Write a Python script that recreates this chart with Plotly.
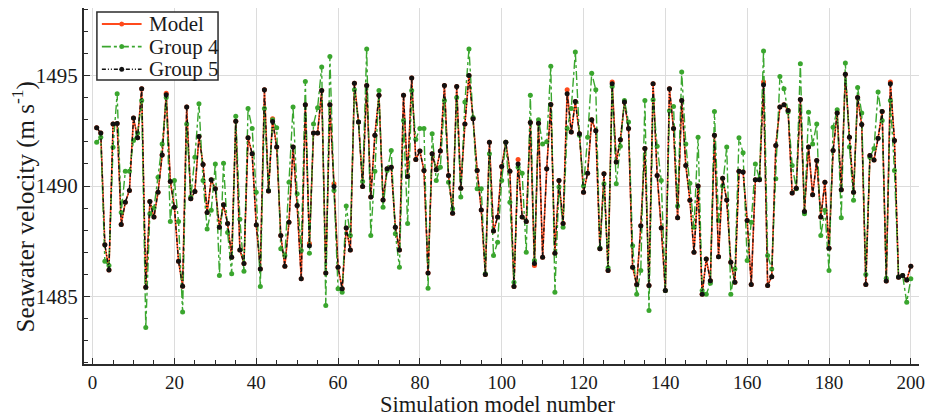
import plotly.graph_objects as go

# Simulation model numbers
model_number = list(range(1, 201))

# Seawater velocity (m/s) for each simulation model
group5 = [
    1492.63, 1492.40, 1487.34, 1486.20, 1492.80, 1492.83, 1488.26, 1489.27, 1489.80, 1493.08,
    1492.18, 1494.40, 1485.42, 1489.30, 1488.60, 1489.72, 1491.40, 1494.13, 1490.20, 1489.04,
    1486.60, 1485.47, 1493.57, 1489.42, 1489.75, 1492.24, 1490.97, 1488.80, 1490.28, 1489.87,
    1488.14, 1489.15, 1488.30, 1486.78, 1492.93, 1487.10, 1486.50, 1492.18, 1491.46, 1488.24,
    1486.25, 1494.35, 1489.77, 1492.92, 1491.76, 1487.76, 1486.37, 1488.36, 1491.76, 1489.12,
    1485.80, 1493.67, 1487.30, 1492.40, 1492.40, 1494.32, 1486.06, 1493.67, 1489.98, 1486.33,
    1485.35, 1488.10, 1487.10, 1494.65, 1492.90, 1489.98, 1494.55, 1489.50, 1492.30, 1494.10,
    1489.37, 1490.78, 1490.85, 1488.14, 1487.10, 1494.10, 1490.43, 1494.88, 1491.20, 1491.58,
    1490.70, 1486.06, 1491.46, 1490.73, 1491.58, 1494.55, 1490.48, 1488.77, 1494.50, 1489.90,
    1492.80, 1495.00, 1493.04, 1490.70, 1488.92, 1486.00, 1491.98, 1487.96, 1488.60, 1490.88,
    1491.98, 1490.67, 1485.45, 1491.00, 1488.60, 1488.40, 1492.87, 1486.50, 1492.84, 1486.78,
    1490.78, 1493.69, 1486.96, 1490.25, 1488.30, 1494.17, 1492.44, 1493.82, 1492.36, 1489.72,
    1490.58, 1493.00, 1492.50, 1487.16, 1490.55, 1486.18, 1494.62, 1491.08, 1492.09, 1493.80,
    1492.60, 1486.33, 1485.54, 1488.20, 1491.70, 1485.50, 1494.62, 1490.48, 1488.10, 1485.27,
    1494.40, 1492.60, 1488.56, 1493.87, 1490.93, 1489.35, 1487.00, 1490.00, 1485.10, 1486.70,
    1485.72, 1492.30, 1486.80, 1490.35, 1489.37, 1486.55, 1485.65, 1490.67, 1490.63, 1488.44,
    1485.54, 1490.28, 1490.28, 1494.58, 1485.50, 1485.90, 1491.83, 1493.57, 1493.67, 1493.42,
    1489.68, 1489.90, 1493.91, 1488.85, 1491.76, 1489.60, 1491.15, 1488.60, 1490.17, 1487.19,
    1491.60, 1493.30, 1489.83, 1495.05, 1492.20, 1489.72, 1494.00, 1492.78, 1485.54, 1491.38,
    1491.18, 1492.16, 1493.37, 1485.70, 1494.62, 1492.06, 1485.87, 1485.95, 1485.75, 1486.37,
]

model = [
    1492.63, 1492.40, 1487.34, 1486.20, 1492.80, 1492.83, 1488.26, 1489.27, 1489.80, 1493.08,
    1492.18, 1494.40, 1485.42, 1489.30, 1488.60, 1489.72, 1491.40, 1494.20, 1490.20, 1489.04,
    1486.60, 1485.47, 1493.57, 1489.42, 1489.75, 1492.24, 1490.97, 1488.80, 1490.28, 1489.87,
    1488.14, 1489.15, 1488.30, 1486.78, 1492.93, 1487.10, 1486.50, 1492.18, 1491.46, 1488.24,
    1486.25, 1494.35, 1489.77, 1493.04, 1491.76, 1487.76, 1486.37, 1488.36, 1491.76, 1489.12,
    1485.80, 1493.67, 1487.40, 1492.40, 1492.40, 1494.32, 1486.06, 1493.67, 1490.10, 1486.33,
    1485.35, 1488.10, 1487.10, 1494.65, 1492.90, 1489.98, 1494.55, 1489.50, 1492.30, 1494.10,
    1489.37, 1490.78, 1490.85, 1488.14, 1487.10, 1494.10, 1490.43, 1494.88, 1491.20, 1491.58,
    1490.70, 1486.06, 1491.46, 1490.73, 1491.58, 1494.55, 1490.48, 1488.77, 1494.50, 1489.90,
    1492.80, 1495.00, 1493.04, 1490.70, 1488.92, 1486.00, 1491.98, 1487.96, 1488.60, 1490.88,
    1491.98, 1490.67, 1485.45, 1491.20, 1488.60, 1488.40, 1492.87, 1486.40, 1492.84, 1486.78,
    1490.78, 1493.69, 1486.96, 1490.25, 1488.30, 1494.35, 1492.44, 1493.82, 1492.36, 1489.72,
    1490.58, 1493.00, 1492.50, 1487.16, 1490.55, 1486.18, 1494.70, 1491.08, 1492.09, 1493.80,
    1492.60, 1486.33, 1485.54, 1488.20, 1491.70, 1485.50, 1494.62, 1490.48, 1488.10, 1485.27,
    1494.40, 1492.60, 1488.56, 1493.87, 1490.93, 1489.35, 1487.00, 1490.00, 1485.10, 1486.70,
    1485.72, 1492.30, 1486.80, 1490.35, 1489.37, 1486.55, 1485.65, 1490.67, 1490.63, 1488.44,
    1485.54, 1490.28, 1490.28, 1494.70, 1485.50, 1485.90, 1491.83, 1493.57, 1493.67, 1493.42,
    1489.68, 1489.90, 1493.91, 1488.85, 1491.76, 1489.60, 1491.15, 1488.60, 1490.17, 1487.19,
    1491.60, 1493.30, 1489.83, 1495.05, 1492.20, 1489.72, 1494.00, 1492.78, 1485.54, 1491.38,
    1491.18, 1492.16, 1493.37, 1485.70, 1494.70, 1492.06, 1485.87, 1485.95, 1485.75, 1486.37,
]

group4 = [
    1491.98, 1492.20, 1486.60, 1486.40, 1491.75, 1494.17, 1488.80, 1490.67, 1490.67, 1492.06,
    1492.40, 1493.87, 1483.60, 1488.75, 1489.00, 1490.40, 1491.90, 1494.00, 1488.40, 1490.25,
    1488.40, 1484.30, 1492.80, 1489.50, 1491.30, 1493.72, 1490.25, 1488.06, 1488.90, 1491.00,
    1485.95, 1491.03, 1487.90, 1486.03, 1493.16, 1488.50, 1486.15, 1493.50, 1492.60, 1489.72,
    1485.45, 1493.50, 1489.80, 1493.00, 1492.63, 1487.16, 1486.86, 1490.17, 1493.57, 1489.65,
    1487.08, 1494.73, 1486.96, 1492.80, 1493.54, 1495.38, 1484.60, 1495.86, 1489.80, 1485.35,
    1485.20, 1489.10, 1487.76, 1494.35, 1492.90, 1490.20, 1496.20, 1487.76, 1490.67, 1494.32,
    1489.04, 1490.70, 1491.60, 1487.84, 1486.33, 1492.96, 1488.30, 1494.32, 1492.10, 1492.60,
    1492.60, 1485.38, 1492.36, 1490.25, 1490.85, 1493.87, 1490.17, 1488.97, 1494.00, 1489.50,
    1493.80, 1496.20, 1493.10, 1489.87, 1489.87, 1486.03, 1491.46, 1486.86, 1487.46, 1490.25,
    1491.98, 1489.27, 1485.65, 1490.85, 1490.58, 1487.00, 1494.10, 1486.63, 1493.00, 1491.90,
    1492.00, 1495.42, 1485.20, 1489.95, 1488.14, 1492.60, 1493.50, 1496.06, 1492.30, 1490.00,
    1492.20, 1495.10, 1494.35, 1487.20, 1490.10, 1486.30, 1494.50, 1490.10, 1491.80, 1493.87,
    1492.90, 1487.30, 1485.10, 1486.18, 1493.87, 1484.37, 1493.90, 1491.80, 1490.25, 1485.27,
    1493.40, 1493.60, 1489.10, 1495.15, 1491.90, 1490.13, 1488.14, 1492.20, 1485.27, 1485.10,
    1485.60, 1493.37, 1488.44, 1490.00, 1491.76, 1485.10, 1486.25, 1492.18, 1491.50, 1486.63,
    1488.36, 1491.00, 1490.33, 1496.10, 1486.86, 1486.25, 1490.33, 1494.95, 1494.40, 1493.35,
    1490.93, 1489.87, 1495.53, 1488.74, 1493.34, 1491.90, 1492.80, 1487.76, 1488.90, 1486.18,
    1492.66, 1493.45, 1488.56, 1495.56, 1491.76, 1489.35, 1494.45, 1493.30, 1486.00, 1491.30,
    1491.70, 1494.25, 1492.96, 1485.83, 1493.87, 1490.70, 1485.90, 1485.95, 1484.74, 1485.80,
]

series_names = ["Model", "Group 4", "Group 5"]
x_ticks = [0, 20, 40, 60, 80, 100, 120, 140, 160, 180, 200]
y_ticks = [1485, 1490, 1495]

SERIF = "Liberation Serif, Times New Roman, serif"
AXIS_COLOR = "#2b2b2b"
TEXT_COLOR = "#1a1a1a"

# Figure and plot-area geometry (pixels)
W, H = 930, 416
M_L, M_R, M_T, M_B = 84, 5, 8, 52
PLOT_W, PLOT_H = W - M_L - M_R, H - M_T - M_B


def px_x(p):
    return (p - M_L) / PLOT_W


def px_y(p):
    return 1 - (p - M_T) / PLOT_H


styles = [
    dict(color="#ff4a1c", dash="solid", width=1.6),
    dict(color="#3aa62e", dash="dashdot", width=1.4),
    dict(color="#111111", dash="4px,2px,1px,2px,1px,2px", width=1.4),
]
series_values = [model, group4, group5]

fig = go.Figure()
for name, vals, st in zip(series_names, series_values, styles):
    fig.add_trace(go.Scatter(
        x=model_number, y=vals, name=name, mode="lines+markers",
        line=dict(color=st["color"], width=st["width"], dash=st["dash"]),
        marker=dict(color=st["color"], size=5, symbol="circle"),
        showlegend=False,
    ))

# Boxed legend in the upper-left corner of the plot area
shapes = [dict(
    type="rect", xref="paper", yref="paper",
    x0=px_x(97), x1=px_x(219), y0=px_y(80), y1=px_y(12),
    line=dict(color=AXIS_COLOR, width=1.5), fillcolor="white", layer="above",
)]
annotations = []
for i, (name, st) in enumerate(zip(series_names, styles)):
    row = 24 + 22.6 * i
    shapes.append(dict(
        type="line", xref="paper", yref="paper",
        x0=px_x(102), x1=px_x(142), y0=px_y(row), y1=px_y(row),
        line=dict(color=st["color"], width=st["width"] + 0.2, dash=st["dash"]), layer="above",
    ))
    shapes.append(dict(
        type="circle", xref="paper", yref="paper",
        x0=px_x(119.5), x1=px_x(124.5), y0=px_y(row + 2.5), y1=px_y(row - 2.5),
        line=dict(color=st["color"], width=0), fillcolor=st["color"], layer="above",
    ))
    annotations.append(dict(
        text=name, xref="paper", yref="paper", x=px_x(147), y=px_y(row),
        xanchor="left", yanchor="middle", showarrow=False,
        font=dict(family=SERIF, size=21, color=TEXT_COLOR),
    ))

# Axis titles
annotations.append(dict(
    text="Seawater velocity (m s<sup>-1</sup>)", xref="paper", yref="paper",
    x=px_x(23), y=px_y(207), xanchor="center", yanchor="middle", textangle=-90,
    showarrow=False, font=dict(family=SERIF, size=25, color=TEXT_COLOR),
))
annotations.append(dict(
    text="Simulation model number", xref="paper", yref="paper",
    x=px_x(500), y=px_y(404), xanchor="center", yanchor="middle",
    showarrow=False, font=dict(family=SERIF, size=22.5, color=TEXT_COLOR),
))

fig.update_layout(
    width=W, height=H,
    margin=dict(l=M_L, r=M_R, t=M_T, b=M_B),
    paper_bgcolor="white", plot_bgcolor="white",
    font=dict(family=SERIF, size=20, color=TEXT_COLOR),
    showlegend=False,
    shapes=shapes,
    annotations=annotations,
    xaxis=dict(
        range=[-2.1, 202], tickvals=x_ticks,
        showline=True, linecolor=AXIS_COLOR, linewidth=2,
        ticks="inside", ticklen=6, tickwidth=1.2, tickcolor=AXIS_COLOR,
        showgrid=True, gridcolor="#dcdcdc", gridwidth=1,
        zeroline=False, ticklabeloverflow="allow",
        minor=dict(dtick=5, tick0=0, ticks="inside", ticklen=4, tickcolor=AXIS_COLOR, showgrid=False),
        tickfont=dict(family=SERIF, size=19),
    ),
    yaxis=dict(
        range=[1481.95, 1498.05], tickvals=y_ticks,
        showline=True, linecolor=AXIS_COLOR, linewidth=2,
        ticks="inside", ticklen=6, tickwidth=1.2, tickcolor=AXIS_COLOR,
        showgrid=True, gridcolor="#dcdcdc", gridwidth=1,
        zeroline=False,
        minor=dict(dtick=1, tick0=1485, ticks="inside", ticklen=4, tickcolor=AXIS_COLOR, showgrid=False),
        tickfont=dict(family=SERIF, size=21),
    ),
)

fig.write_html("out.html")
